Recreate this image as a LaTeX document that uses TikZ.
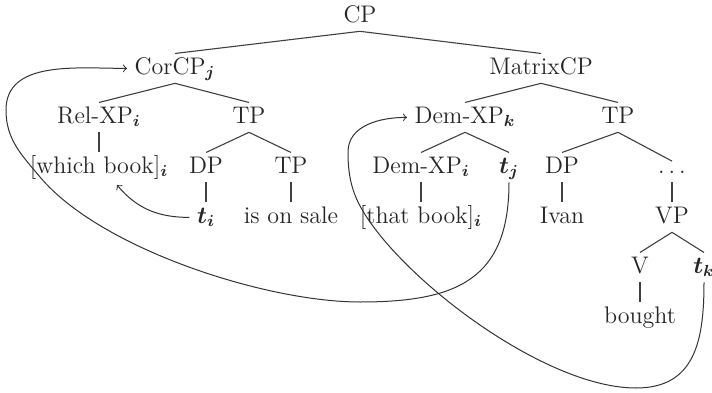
\documentclass[tikz,border=0pt]{standalone}
\usepackage{amsmath,amssymb}
\usepackage{tikz}

\begin{document}
\begin{tikzpicture}[x=0.5pt,y=0.5pt,
    every node/.style={font={\fontsize{12}{14}\selectfont},text=black!85},
    tn/.style={anchor=base,text height=1.5ex,text depth=.2ex,inner sep=3.6pt},
    br/.style={black!75,line width=0.55pt},
    mv/.style={->,black!80,line width=0.5pt}]
    \useasboundingbox (0,0) rectangle (712,392);
    \node[tn] (cp) at (360,370) {CP};
    \node[tn] (cor) at (175,318) {CorCP$_{\boldsymbol{j}}$};
    \node[tn] (mcp) at (541,318) {MatrixCP};
    \node[tn] (rel) at (99,269) {Rel-XP$_{\boldsymbol{i}}$};
    \node[tn] (tpa) at (249,269) {TP};
    \node[tn] (wb) at (99,219) {[which book]$_{\boldsymbol{i}}$};
    \node[tn] (dpa) at (206,219) {DP};
    \node[tn] (tpb) at (291,219) {TP};
    \node[tn] (ti) at (206,169) {$\boldsymbol{t_i}$};
    \node[tn] (sale) at (291,169) {is on sale};
    \node[tn] (demk) at (465,269) {Dem-XP$_{\boldsymbol{k}}$};
    \node[tn] (tpc) at (618,269) {TP};
    \node[tn] (demi) at (421,219) {Dem-XP$_{\boldsymbol{i}}$};
    \node[tn] (tj) at (509,219) {$\boldsymbol{t_j}$};
    \node[tn] (dpb) at (562,219) {DP};
    \node[tn,text height=.5ex] (dots) at (672,219) {$\ldots$};
    \node[tn] (that) at (421,169) {[that book]$_{\boldsymbol{i}}$};
    \node[tn] (ivan) at (562,169) {Ivan};
    \node[tn] (vp) at (672,169) {VP};
    \node[tn] (v) at (640,119) {V};
    \node[tn] (tk) at (704,119) {$\boldsymbol{t_k}$};
    \node[tn] (bought) at (640,69) {bought};
    \foreach \a/\b in {cp/cor,cp/mcp,cor/rel,cor/tpa,rel/wb,tpa/dpa,tpa/tpb,
        dpa/ti,tpb/sale,mcp/demk,mcp/tpc,demk/demi,demk/tj,demi/that,
        tpc/dpb,tpc/dots,dpb/ivan,dots/vp,vp/v,vp/tk,v/bought} {
      \draw[br] (\a.south) -- (\b.north);
    }
    \coordinate (wbx) at (117,207);
    \draw[mv] (ti.west) to[out=180,in=-50] (wbx);
    \draw[mv] (tj.south) to[out=-90,in=0,looseness=1.3] (360,90)
      to[out=180,in=-50,looseness=0.7] (40,215)
      to[out=130,in=-90] (6,282) to[out=90,in=180] (cor.west);
    \draw[mv] (tk.south) to[out=-90,in=0,looseness=1.2] (636,4)
      to[out=180,in=-55,looseness=0.7] (370,170)
      to[out=125,in=-90] (348,240) to[out=90,in=180] (demk.west);
\end{tikzpicture}
\end{document}
